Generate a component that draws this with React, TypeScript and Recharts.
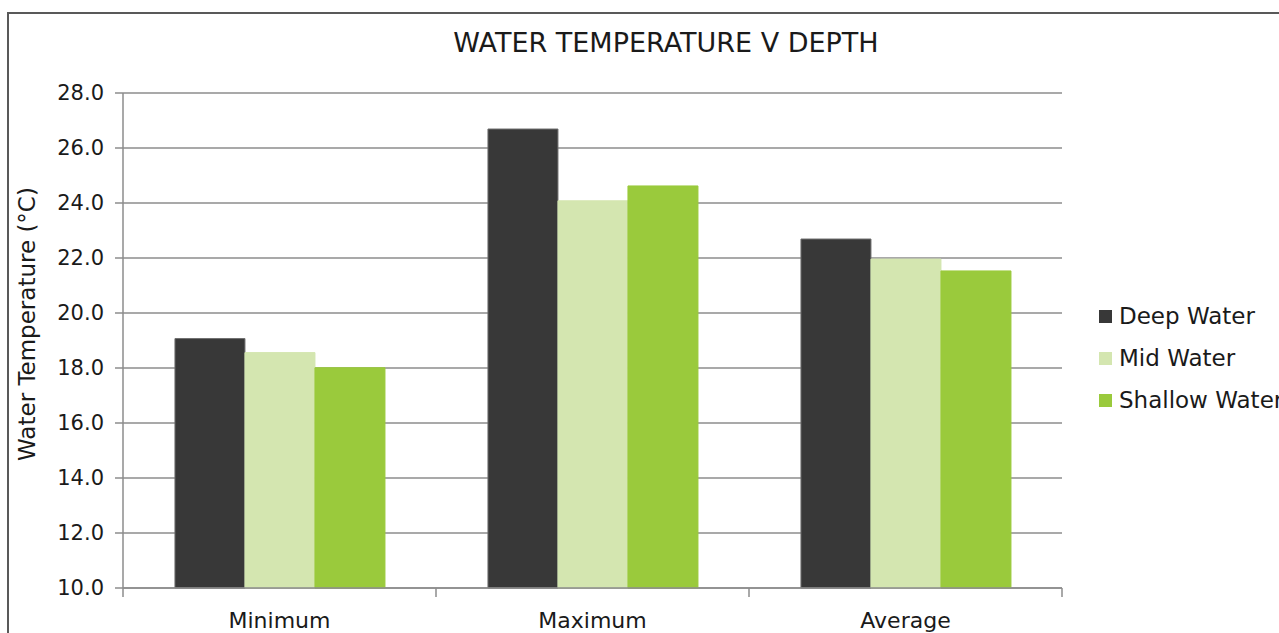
import { BarChart, Bar, XAxis, YAxis, CartesianGrid } from "recharts";

const categories = ["Minimum", "Maximum", "Average"];
const deepWater = [19.07, 26.69, 22.69];
const midWater = [18.56, 24.08, 21.96];
const shallowWater = [18.01, 24.62, 21.53];
const yTicks = [10, 12, 14, 16, 18, 20, 22, 24, 26, 28];

const data = categories.map((c, i) => ({
  name: c,
  deep: deepWater[i],
  mid: midWater[i],
  shallow: shallowWater[i],
}));

const FONT = "'DejaVu Sans', sans-serif";
const GRID = "#8c8c8c";
const TEXT = "#1a1a1a";
const X_TICK_SIZE = 9;
const X_TICK_MARGIN = 15;

const series = [
  { key: "deep", label: "Deep Water", color: "#383838", stroke: "#6e6e6e" },
  { key: "mid", label: "Mid Water", color: "#d4e6b0", stroke: "#d4e6b0" },
  { key: "shallow", label: "Shallow Water", color: "#9aca3c", stroke: "#9aca3c" },
];

// category label plus the small marks on the band edges (Excel style)
function CategoryTick(props: any) {
  const { x, y, payload, index, visibleTicksCount } = props;
  const half = payload?.offset ?? 0;
  const top = y - X_TICK_MARGIN - X_TICK_SIZE;
  const bottom = y - X_TICK_MARGIN;
  const last = index === (visibleTicksCount ?? categories.length) - 1;
  return (
    <g>
      {half > 0 && (
        <line x1={x - half} x2={x - half} y1={top} y2={bottom} stroke={GRID} strokeWidth={1.5} />
      )}
      {half > 0 && last && (
        <line x1={x + half} x2={x + half} y1={top} y2={bottom} stroke={GRID} strokeWidth={1.5} />
      )}
      <text x={x} y={y} dy="0.71em" textAnchor="middle" fontFamily={FONT} fontSize={22} fill={TEXT}>
        {payload.value}
      </text>
    </g>
  );
}

// legend drawn as plain html next to the plot
function LegendBox() {
  return (
    <div
      style={{
        position: "absolute",
        left: 1090,
        top: 281,
        fontFamily: FONT,
        fontSize: 23,
        color: TEXT,
      }}
    >
      {series.map((s) => (
        <div key={s.key} style={{ display: "flex", alignItems: "center", height: 42, whiteSpace: "nowrap" }}>
          <span style={{ width: 13, height: 13, background: s.color, marginRight: 7, display: "inline-block" }} />
          {s.label}
        </div>
      ))}
    </div>
  );
}

export default function App() {
  return (
    <div
      style={{
        position: "fixed",
        left: 7,
        top: 12,
        width: 1300,
        height: 660,
        border: "2px solid #595959",
        background: "#fff",
        overflow: "hidden",
      }}
    >
      <div
        style={{
          position: "absolute",
          left: 0,
          top: 13,
          width: 1314,
          textAlign: "center",
          fontFamily: FONT,
          fontSize: 27,
          color: TEXT,
        }}
      >
        WATER TEMPERATURE V DEPTH
      </div>
      <div
        style={{
          position: "absolute",
          left: 18,
          top: 310,
          transform: "translate(-50%, -50%) rotate(-90deg)",
          fontFamily: FONT,
          fontSize: 23,
          color: TEXT,
          whiteSpace: "nowrap",
        }}
      >
        Water Temperature (°C)
      </div>
      <LegendBox />
      <BarChart
        width={1290}
        height={640}
        data={data}
        margin={{ top: 79, right: 237, bottom: 26, left: 44 }}
        barCategoryGap="16.6%"
        barGap={0}
      >
        <CartesianGrid vertical={false} stroke={GRID} strokeWidth={1.5} />
        <XAxis
          dataKey="name"
          axisLine={{ stroke: GRID, strokeWidth: 1.5 }}
          tickLine={{ stroke: "transparent" }}
          tickSize={X_TICK_SIZE}
          tickMargin={X_TICK_MARGIN}
          tick={<CategoryTick />}
          interval={0}
          height={40}
        />
        <YAxis
          domain={[10, 28]}
          ticks={yTicks}
          interval={0}
          tickFormatter={(v: number) => v.toFixed(1)}
          axisLine={{ stroke: GRID, strokeWidth: 1.5 }}
          tickLine={{ stroke: GRID, strokeWidth: 1.5 }}
          tickSize={8}
          tickMargin={11}
          tick={{ fontFamily: FONT, fontSize: 21, fill: TEXT }}
          width={70}
        />
        {series.map((s) => (
          <Bar
            key={s.key}
            dataKey={s.key}
            name={s.label}
            fill={s.color}
            stroke={s.stroke}
            strokeWidth={1}
            isAnimationActive={false}
          />
        ))}
      </BarChart>
    </div>
  );
}
